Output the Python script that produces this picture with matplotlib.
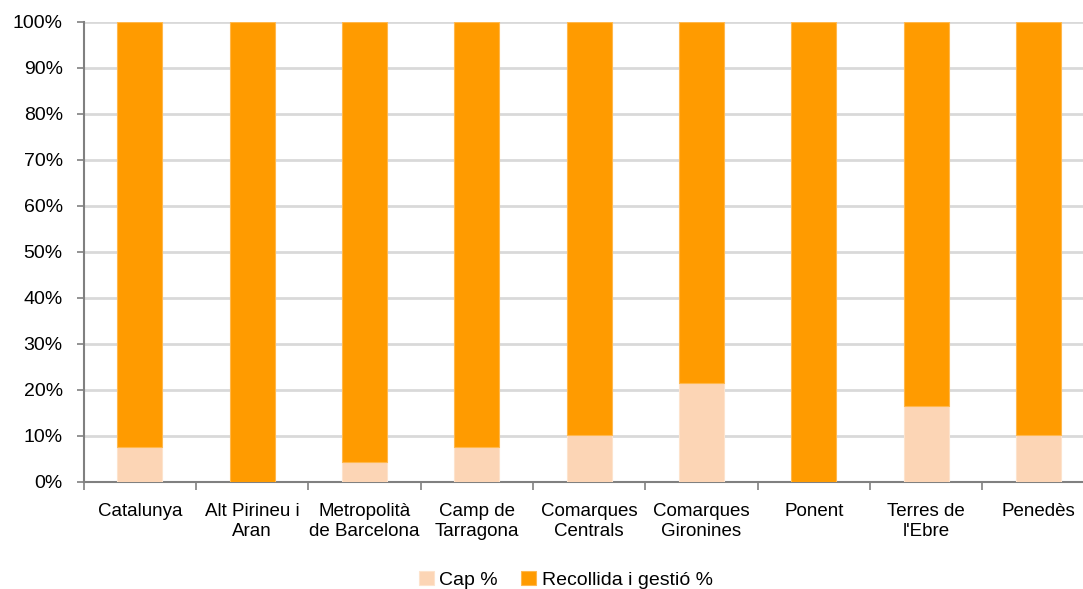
import matplotlib
matplotlib.use("Agg")
import matplotlib.pyplot as plt
import numpy as np

plt.rcParams['font.family'] = ['Liberation Sans', 'DejaVu Sans']

# Dades
categories = ["Catalunya", "Alt Pirineu i\nAran", "Metropolità\nde Barcelona", "Camp de\nTarragona",
              "Comarques\nCentrals", "Comarques\nGironines", "Ponent", "Terres de\nl'Ebre", "Penedès"]
cap = [7.6, 0.0, 4.3, 7.6, 10.2, 21.5, 0.0, 16.5, 10.2]
recollida = [100 - v for v in cap]

col_cap = '#FCD5B5'
col_rec = '#FF9B00'

fig = plt.figure(figsize=(10.83, 5.89), dpi=100)
# l'eix continua una mica més enllà del marge dret, com a l'original
ax = fig.add_axes([83.6/1083, 1 - 482/589, 1011/1083, 460/589])

x = np.arange(len(categories))
w = 0.40
ax.bar(x, cap, w, color=col_cap, edgecolor='#FDE3CC', linewidth=0.8, label='Cap %', zorder=3)
ax.bar(x, recollida, w, bottom=cap, color=col_rec, edgecolor='#FFB84D', linewidth=0.8,
       label='Recollida i gestió %', zorder=3)

ax.set_xlim(-0.5, len(categories) - 0.5)
ax.set_ylim(0, 100)
ax.set_yticks(np.arange(0, 101, 10))
ax.set_yticklabels([f"{v}%" for v in range(0, 101, 10)], fontsize=14)
ax.yaxis.grid(True, color='#D9D9D9', linewidth=2, zorder=0)

ax.set_xticks(x)
ax.set_xticklabels(categories, fontsize=13.5, linespacing=1.25)
ax.set_xticks(np.arange(-0.5, len(categories), 1), minor=True)
ax.tick_params(axis='x', which='major', length=0, pad=15)
ax.tick_params(axis='x', which='minor', length=6, color='#808080', width=1.2)
ax.tick_params(axis='y', length=5, color='#808080', width=1.2, pad=10)

for s in ['top', 'right']:
    ax.spines[s].set_visible(False)
for s in ['left', 'bottom']:
    ax.spines[s].set_color('#808080')
    ax.spines[s].set_linewidth(1.5)

ax.legend(loc='lower center', bbox_to_anchor=(0.477, -0.27), ncol=2, frameon=False,
          fontsize=14, handlelength=0.75, handleheight=0.75, handletextpad=0.3, columnspacing=1.2)

fig.savefig('out.png', dpi=100)
